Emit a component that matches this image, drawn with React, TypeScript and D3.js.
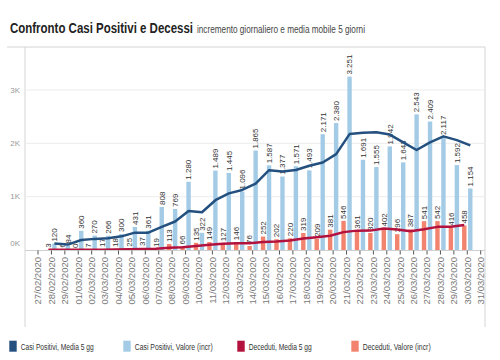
import React from "react";
import * as d3 from "d3";

const dates = [
  "27/02/2020","28/02/2020","29/02/2020","01/03/2020","02/03/2020","03/03/2020","04/03/2020",
  "05/03/2020","06/03/2020","07/03/2020","08/03/2020","09/03/2020","10/03/2020","11/03/2020",
  "12/03/2020","13/03/2020","14/03/2020","15/03/2020","16/03/2020","17/03/2020","18/03/2020",
  "19/03/2020","20/03/2020","21/03/2020","22/03/2020","23/03/2020","24/03/2020","25/03/2020",
  "26/03/2020","27/03/2020","28/03/2020","29/03/2020","30/03/2020","31/03/2020",
];

// data days: 28/02 .. 30/03
const dataDates = dates.slice(1, 33);

const positiviIncr = [120, 84, 360, 270, 266, 300, 431, 361, 808, 769, 1280, 322, 1489, 1445, 1096, 1865,
  1587, 1377, 1571, 1493, 2171, 2380, 3251, 1691, 1555, 1942, 1643, 2543, 2409, 2117, 1592, 1154];

const positiviMedia = [120, 102, 188, 208.5, 220, 256, 325.4, 325.6, 433.2, 533.8, 729.8, 708, 933.6, 1061,
  1126.4, 1243.4, 1496.4, 1474, 1499.2, 1578.6, 1639.8, 1798.4, 2173.2, 2197.2, 2209.6, 2163.8, 2016.4,
  1874.8, 2018.4, 2130.8, 2060.8, 1963];

const decedutiIncr = [3, 6, 0, 7, 17, 18, 25, 37, 19, 113, 66, 135, 149, 127, 146, 76, 252, 202, 220, 319,
  209, 381, 546, 361, 320, 402, 296, 387, 541, 542, 416, 458];

const decedutiMedia = [3, 4.5, 3, 4, 6.6, 9.6, 13.4, 20.8, 23.2, 42.4, 52, 74, 96.4, 118, 124.6, 126.6, 150,
  160.6, 179.2, 213.8, 240.4, 266.2, 335, 363.2, 363.4, 402, 385, 353.2, 389.2, 433.6, 436.4, 468.8];

const yTicks = [0, 1000, 2000, 3000];
const yTickLabels = ["0K", "1K", "2K", "3K"];

const legendItems = [
  "Casi Positivi, Media 5 gg",
  "Casi Positivi, Valore (incr)",
  "Deceduti, Media 5 gg",
  "Deceduti, Valore (incr)",
];
const legendTextWidths = [73, 78, 63, 68];

const C_DARK = "#24507f";
const C_LIGHT = "#a3cbe6";
const C_RED = "#b3123e";
const C_SALMON = "#f2846f";
const legendColors = [C_DARK, C_LIGHT, C_RED, C_SALMON];

const SANS = "'Liberation Sans', Arial, sans-serif";

const itFmt = d3.formatLocale({ decimal: ",", thousands: ".", grouping: [3], currency: ["€", ""] }).format(",d");

// condensed text: horizontally scaled group so that bounding boxes stay true
function Condensed(props: {
  x: number; y: number; width: number; sx: number; size: number; weight?: string; fill: string; children: string;
}) {
  const { x, y, width, sx, size, weight, fill, children } = props;
  return (
    <g transform={`translate(${x},${y}) scale(${sx},1)`}>
      <text x={0} y={0} fontFamily={SANS} fontSize={size} fontWeight={weight || "normal"} fill={fill}
        textLength={width / sx} lengthAdjust="spacingAndGlyphs">
        {children}
      </text>
    </g>
  );
}

export default function App() {
  const W = 500, H = 360;
  const x = d3.scaleBand<string>().domain(dates).range([31.3, 487.4]).padding(0);
  const bw = x.bandwidth();
  const cx = (d: string) => (x(d) as number) + bw / 2;
  const y = d3.scaleLinear().domain([0, 3806]).range([250, 47]);
  const barW = 4.4;
  const offR = -3;
  const offB = 3;

  const lineP = d3.line<number>()
    .x((_, i) => cx(dataDates[i]) + offB)
    .y((v) => y(v));
  const lineD = d3.line<number>()
    .x((_, i) => cx(dataDates[i]) + offR)
    .y((v) => y(v));

  return (
    <svg width={W} height={H} style={{ position: "absolute", left: 0, top: 0, background: "#fff" }}>
      {/* title */}
      <Condensed x={10} y={33} width={183} sx={0.82} size={14} weight="bold" fill="#222">
        Confronto Casi Positivi e Decessi
      </Condensed>
      <Condensed x={197} y={33} width={168} sx={0.78} size={10.5} fill="#444">
        incremento giornaliero e media mobile 5 giorni
      </Condensed>

      {/* frame */}
      <line x1={7} x2={485} y1={47} y2={47} stroke="#d4d4d4" />
      <line x1={25} x2={25} y1={47} y2={327} stroke="#d4d4d4" />
      <line x1={485} x2={485} y1={47} y2={327} stroke="#d4d4d4" />

      {/* grid + y labels */}
      {yTicks.map((t, i) => (
        <g key={t}>
          {t > 0 && <line x1={25} x2={485} y1={y(t)} y2={y(t)} stroke="#ececec" />}
          <text x={20} y={Math.min(y(t), 243.3)} dy="0.35em" textAnchor="end" fontFamily={SANS} fontSize={8} fill="#999">
            {yTickLabels[i]}
          </text>
        </g>
      ))}

      {/* bars */}
      {dataDates.map((d, i) => (
        <g key={d}>
          <rect x={cx(d) + offR - barW / 2} y={y(decedutiIncr[i])} width={barW} height={250 - y(decedutiIncr[i])} fill={C_SALMON} />
          <rect x={cx(d) + offB - barW / 2} y={y(positiviIncr[i])} width={barW} height={250 - y(positiviIncr[i])} fill={C_LIGHT} />
        </g>
      ))}

      {/* value labels */}
      {dataDates.map((d, i) => (
        <g key={"l" + d} fontFamily={SANS} fontSize={8} fill="#333">
          <text transform={`translate(${cx(d) + offR},${y(decedutiIncr[i]) - 2}) rotate(-90)`} dy="0.35em">
            {itFmt(decedutiIncr[i])}
          </text>
          <text transform={`translate(${cx(d) + offB},${y(positiviIncr[i]) - 2}) rotate(-90)`} dy="0.35em">
            {itFmt(positiviIncr[i])}
          </text>
        </g>
      ))}

      {/* lines */}
      <path d={lineP(positiviMedia) || ""} fill="none" stroke={C_DARK} strokeWidth={2.5} strokeLinejoin="round" />
      <path d={lineD(decedutiMedia) || ""} fill="none" stroke={C_RED} strokeWidth={2.5} strokeLinejoin="round" />

      {/* x axis */}
      <line x1={25} x2={485} y1={250.5} y2={250.5} stroke="#cfcfcf" />
      {dates.map((d) => (
        <g key={"t" + d}>
          <line x1={cx(d)} x2={cx(d)} y1={250.5} y2={254.5} stroke="#555" />
          <text transform={`translate(${cx(d)},257) rotate(-90)`} dy="0.35em" textAnchor="end" fontFamily={SANS} fontSize={9.5} fill="#777">
            {d}
          </text>
        </g>
      ))}

      {/* legend */}
      {legendItems.map((l, i) => (
        <g key={l}>
          <rect x={9.3 + i * 114} y={340.7} width={7.4} height={11} fill={legendColors[i]} />
          <Condensed x={20.7 + i * 114} y={349.7} width={legendTextWidths[i]} sx={0.71} size={9.5} fill="#333">
            {l}
          </Condensed>
        </g>
      ))}
    </svg>
  );
}
